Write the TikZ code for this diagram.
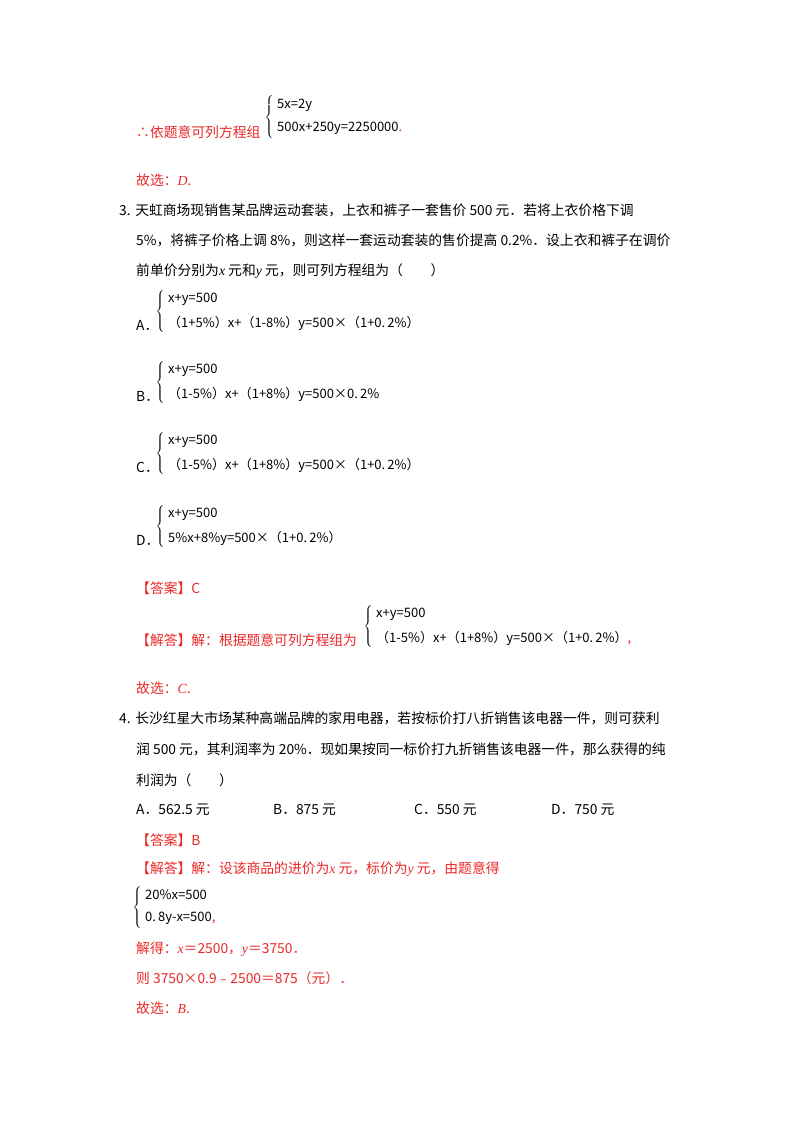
\documentclass[tikz,border=0pt]{standalone}
\usepackage{fontspec}
\setmainfont{Liberation Serif}
\newfontfamily\cjk{Noto Sans CJK SC}
\definecolor{ansred}{RGB}{235,40,40}
\tikzset{t/.style={anchor=west,inner sep=0pt,font=\fontsize{13.8}{14}\selectfont\cjk},
 r/.style={t,text=ansred},
 eq/.style={anchor=west,inner sep=0pt,font=\fontsize{13}{14}\selectfont\cjk},
 br/.style={inner sep=0pt,anchor=east,font=\fontsize{13}{14}\selectfont}}
\newcommand{\bracebig}{$\left\{\rule{0pt}{19pt}\rule[-18pt]{0pt}{18pt}\right.$}
\newcommand{\vi}[1]{{\rmfamily\itshape #1}}
\begin{document}
\begin{tikzpicture}[x=1pt,y=-1pt]
\useasboundingbox[fill=white] (0,0) rectangle (800,1132);
% top
\node[r] (q2a) at (136,132) {∴依题意可列方程组};
\node[br] (b0) at (275,117) {\bracebig};
\node[eq] (e01) at (277,105) {5x=2y};
\node[eq] (e02) at (277,128) {500x+250y=2250000\textcolor{ansred}{.}};
\node[r] (g2) at (136,180) {故选：\vi{D}.};
% Q3
\node[t] (q31) at (119,210) {3.\,\,天虹商场现销售某品牌运动套装，上衣和裤子一套售价 500 元．若将上衣价格下调};
\node[t] (q32) at (136,240) {5\%，将裤子价格上调 8\%，则这样一套运动套装的售价提高 0.2\%．设上衣和裤子在调价};
\node[t] (q33) at (136,271) {前单价分别为\vi{x} 元和\vi{y} 元，则可列方程组为（\qquad）};
\node[t] (la) at (136,325) {A．};
\node[br] (ba) at (166,311) {\bracebig};
\node[eq] (a1) at (168,299) {x+y=500};
\node[eq] (a2) at (168,323) {（1+5\%）x+（1-8\%）y=500×（1+0.\,2\%）};
\node[t] (lb) at (136,396) {B．};
\node[br] (bb) at (166,382) {\bracebig};
\node[eq] (b1) at (168,370) {x+y=500};
\node[eq] (b2) at (168,394) {（1-5\%）x+（1+8\%）y=500×0.\,2\%};
\node[t] (lc) at (136,467) {C．};
\node[br] (bc) at (166,453) {\bracebig};
\node[eq] (c1) at (168,441) {x+y=500};
\node[eq] (c2) at (168,465) {（1-5\%）x+（1+8\%）y=500×（1+0.\,2\%）};
\node[t] (ld) at (136,540) {D．};
\node[br] (bd) at (166,526) {\bracebig};
\node[eq] (d1) at (168,514) {x+y=500};
\node[eq] (d2) at (168,538) {5\%x+8\%y=500×（1+0.\,2\%）};
\node[r] (ans3) at (136,588) {【答案】C};
\node[r] (sol3) at (136,640) {【解答】解：根据题意可列方程组为};
\node[br] (bs3) at (374,626) {\bracebig};
\node[eq] (s31) at (376,614) {x+y=500};
\node[eq] (s32) at (376,638) {（1-5\%）x+（1+8\%）y=500×（1+0.\,2\%）\textcolor{ansred}{,}};
\node[r] (g3) at (136,688) {故选：\vi{C}.};
% Q4
\node[t] (q41) at (119,718) {4.\,\,长沙红星大市场某种高端品牌的家用电器，若按标价打八折销售该电器一件，则可获利};
\node[t] (q42) at (136,749) {润 500 元，其利润率为 20\%．现如果按同一标价打九折销售该电器一件，那么获得的纯};
\node[t] (q43) at (136,780) {利润为（\qquad）};
\node[t] (oa) at (136,810) {A．562.5 元};
\node[t] (ob) at (273,810) {B．875 元};
\node[t] (oc) at (414,810) {C．550 元};
\node[t] (od) at (551,810) {D．750 元};
\node[r] (ans4) at (136,840) {【答案】B};
\node[r] (sol4) at (136,869) {【解答】解：设该商品的进价为\vi{x} 元，标价为\vi{y} 元，由题意得};
\node[br] (bs4) at (143,907) {\bracebig};
\node[eq] (s41) at (145,895) {20\%x=500};
\node[eq] (s42) at (145,918) {0.\,8y-x=500\textcolor{ansred}{,}};
\node[r] (j4) at (136,949) {解得：\vi{x}＝2500，\vi{y}＝3750．};
\node[r] (z4) at (136,978) {则 3750×0.9﹣2500＝875（元）．};
\node[r] (g4) at (136,1008) {故选：\vi{B}.};
\end{tikzpicture}
\end{document}
